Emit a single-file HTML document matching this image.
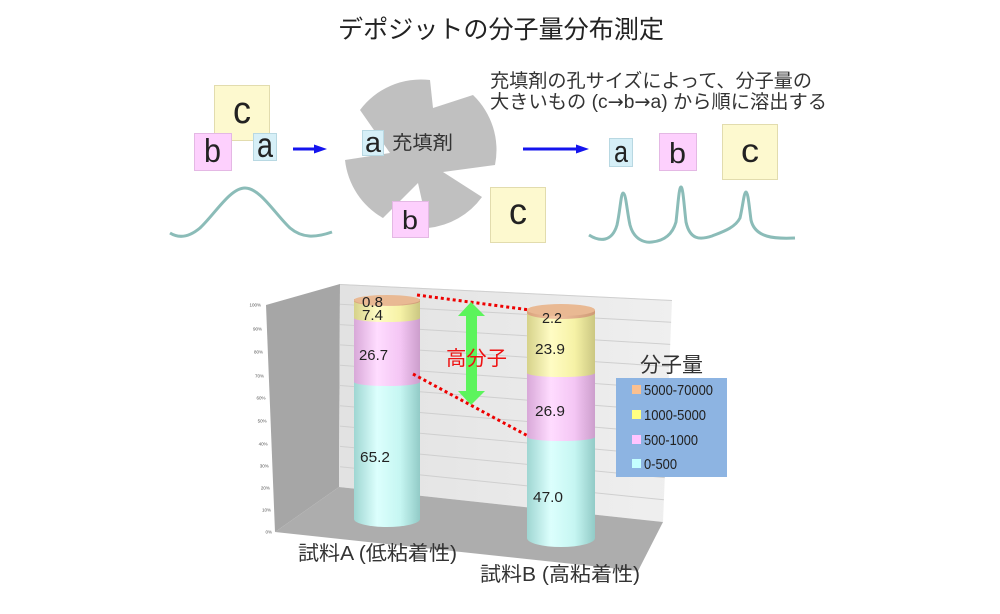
<!DOCTYPE html>
<html><head><meta charset="utf-8"><style>
html,body{margin:0;padding:0;background:#fff;}
svg{display:block;}
text{font-family:"Liberation Sans","Noto Sans CJK JP",sans-serif;}
</style></head><body>
<svg width="1000" height="614" viewBox="0 0 1000 614" xmlns="http://www.w3.org/2000/svg">
<defs>
<linearGradient id="gc" x1="0" x2="1" y1="0" y2="0"><stop offset="0" stop-color="#9fd6d2"/><stop offset="0.35" stop-color="#dcfffd"/><stop offset="0.7" stop-color="#c6f6f2"/><stop offset="1" stop-color="#92cbc7"/></linearGradient>
<linearGradient id="gp" x1="0" x2="1" y1="0" y2="0"><stop offset="0" stop-color="#d8a8d8"/><stop offset="0.35" stop-color="#ffdcff"/><stop offset="0.7" stop-color="#f4c6f4"/><stop offset="1" stop-color="#cc9ecc"/></linearGradient>
<linearGradient id="gy" x1="0" x2="1" y1="0" y2="0"><stop offset="0" stop-color="#d6d28a"/><stop offset="0.35" stop-color="#fffcc4"/><stop offset="0.7" stop-color="#f6f2a6"/><stop offset="1" stop-color="#cbc782"/></linearGradient>
<linearGradient id="go" x1="0" x2="1" y1="0" y2="0"><stop offset="0" stop-color="#d9a27c"/><stop offset="0.4" stop-color="#f2c4a2"/><stop offset="1" stop-color="#cf9a76"/></linearGradient>
<linearGradient id="gw" x1="0" x2="1" y1="0" y2="0"><stop offset="0" stop-color="#e2e2e2"/><stop offset="1" stop-color="#efefef"/></linearGradient>
</defs>

<!-- Title -->
<text x="338" y="38" font-size="25" fill="#222" textLength="326" lengthAdjust="spacingAndGlyphs">デポジットの分子量分布測定</text>

<!-- Left group -->
<rect x="214.5" y="85.5" width="55" height="55" fill="#fdf9cf" stroke="#e2dcae"/>
<text x="233" y="123" font-size="38" fill="#222" textLength="18" lengthAdjust="spacingAndGlyphs">c</text>
<rect x="194.5" y="133.5" width="37" height="37" fill="#fdd0fd" stroke="#e4b8e4"/>
<text x="204" y="162" font-size="33" fill="#222" textLength="17" lengthAdjust="spacingAndGlyphs">b</text>
<rect x="253.5" y="133.5" width="23" height="27" fill="#d6eff7" stroke="#b8d8e2"/>
<text x="257" y="157" font-size="35" fill="#222" textLength="16" lengthAdjust="spacingAndGlyphs">a</text>
<line x1="293" y1="149" x2="316" y2="149" stroke="#1414ee" stroke-width="3"/>
<polygon points="314,144.5 327,149 314,153.5" fill="#1414ee"/>
<path d="M170,233 C178,238 188,238 200,228 C215,214 230,188 245,188 C260,188 275,214 290,228 C302,238 315,238 332,232" fill="none" stroke="#8bbcb8" stroke-width="3"/>

<!-- Pinwheel -->
<path d="M360,110 A76,76 0 0 1 430,80 L433,108 L473,95 A76,76 0 0 1 495,165 L443,172 L482,197 A76,76 0 0 1 428,228 L418,183 L383,218 A76,76 0 0 1 345,160 L390,153 Z" fill="#c0c0c0"/>
<rect x="362.5" y="130.5" width="21" height="25" fill="#d6eff7" stroke="#b8d8e2"/>
<text x="365" y="152" font-size="29" fill="#222" textLength="16" lengthAdjust="spacingAndGlyphs">a</text>
<text x="392" y="149" font-size="19" fill="#333" textLength="61" lengthAdjust="spacingAndGlyphs">充填剤</text>
<rect x="392.5" y="201.5" width="36" height="36" fill="#fdd0fd" stroke="#e4b8e4"/>
<text x="402" y="229" font-size="26" fill="#222" textLength="16" lengthAdjust="spacingAndGlyphs">b</text>
<rect x="490.5" y="187.5" width="55" height="55" fill="#fdf9cf" stroke="#e2dcae"/>
<text x="509" y="224" font-size="37" fill="#222" textLength="18" lengthAdjust="spacingAndGlyphs">c</text>

<line x1="523" y1="149" x2="578" y2="149" stroke="#1414ee" stroke-width="3"/>
<polygon points="576,144.5 589,149 576,153.5" fill="#1414ee"/>

<!-- Top-right text -->
<text x="490" y="87" font-size="19" fill="#333" textLength="322" lengthAdjust="spacingAndGlyphs">充填剤の孔サイズによって、分子量の</text>
<text x="490" y="108" font-size="19" fill="#333" textLength="337" lengthAdjust="spacingAndGlyphs">大きいもの (c<tspan font-family="DejaVu Sans, sans-serif">→</tspan>b<tspan font-family="DejaVu Sans, sans-serif">→</tspan>a) から順に溶出する</text>

<!-- Right group -->
<rect x="609.5" y="138.5" width="23" height="28" fill="#d6eff7" stroke="#b8d8e2"/>
<text x="614" y="162" font-size="31" fill="#222" textLength="14" lengthAdjust="spacingAndGlyphs">a</text>
<rect x="659.5" y="133.5" width="37" height="37" fill="#fdd0fd" stroke="#e4b8e4"/>
<text x="669" y="163" font-size="29" fill="#222" textLength="17" lengthAdjust="spacingAndGlyphs">b</text>
<rect x="722.5" y="124.5" width="55" height="55" fill="#fdf9cf" stroke="#e2dcae"/>
<text x="741" y="162" font-size="33" fill="#222" textLength="18" lengthAdjust="spacingAndGlyphs">c</text>
<path d="M589,235 C600,242 612,242 617,225 C620,212 621,193 623,193 C626,193 627,212 630,225 C634,240 645,243 652,242 C662,241 672,236 676,222 C678,205 679,187 681,187 C683,187 684,205 686,222 C690,240 700,240 712,236 C722,232 735,228 740,218 C743,205 744,192 746,192 C748,192 749,205 751,220 C755,238 775,239 795,238" fill="none" stroke="#8bbcb8" stroke-width="3"/>

<!-- Chart walls -->
<polygon points="266,305 340,284 339,487 275,532" fill="#a6a6a6"/>
<polygon points="340,284 672,300 663,522 339,487" fill="url(#gw)"/>
<g stroke="#cfcfcf" stroke-width="1">
<line x1="340" y1="466.7" x2="663.9" y2="499.8"/>
<line x1="340" y1="446.4" x2="664.8" y2="477.6"/>
<line x1="340" y1="426.1" x2="665.7" y2="455.4"/>
<line x1="340" y1="405.8" x2="666.6" y2="433.2"/>
<line x1="340" y1="385.5" x2="667.5" y2="411"/>
<line x1="340" y1="365.2" x2="668.4" y2="388.8"/>
<line x1="340" y1="344.9" x2="669.3" y2="366.6"/>
<line x1="340" y1="324.6" x2="670.2" y2="344.4"/>
<line x1="340" y1="304.3" x2="671.1" y2="322.2"/>
<line x1="340" y1="284.5" x2="672" y2="300.5"/>
</g>
<polygon points="275,532 339,487 663,522 638,571" fill="#adadad"/>

<!-- Y axis labels -->
<g font-size="4.5" fill="#555" text-anchor="end">
<text x="261" y="306.5">100%</text>
<text x="262" y="330.5">90%</text>
<text x="263" y="353.5">80%</text>
<text x="264" y="377.5">70%</text>
<text x="265.5" y="399.5">60%</text>
<text x="266.6" y="422.5">50%</text>
<text x="267.7" y="445.5">40%</text>
<text x="268.8" y="467.5">30%</text>
<text x="269.9" y="489.5">20%</text>
<text x="271" y="511.5">10%</text>
<text x="272" y="533.5">0%</text>
</g>

<!-- Cylinder A -->
<path d="M354,382 L354,519 A33,8 0 0 0 420,519 L420,382 Z" fill="url(#gc)"/>
<path d="M354,318 L354,382 A33,4 0 0 0 420,382 L420,318 Z" fill="url(#gp)"/>
<path d="M354,300 L354,318 A33,4 0 0 0 420,318 L420,300 Z" fill="url(#gy)"/>
<path d="M354,299 L354,301 A33,5 0 0 0 420,301 L420,299 Z" fill="url(#go)"/>
<ellipse cx="387" cy="300" rx="33" ry="5" fill="#e9b993"/>

<!-- Cylinder B -->
<path d="M527,437 L527,538 A34,9 0 0 0 595,538 L595,437 Z" fill="url(#gc)"/>
<path d="M527,373 L527,437 A34,4 0 0 0 595,437 L595,373 Z" fill="url(#gp)"/>
<path d="M527,312 L527,373 A34,4 0 0 0 595,373 L595,312 Z" fill="url(#gy)"/>
<path d="M527,310 L527,313 A34,6 0 0 0 595,313 L595,310 Z" fill="url(#go)"/>
<ellipse cx="561" cy="310" rx="34" ry="6" fill="#e9b993"/>

<!-- Data labels -->
<g fill="#222" font-size="15">
<text x="362" y="307" textLength="21" lengthAdjust="spacingAndGlyphs">0.8</text>
<text x="362" y="320" textLength="21" lengthAdjust="spacingAndGlyphs">7.4</text>
<text x="359" y="360" textLength="29" lengthAdjust="spacingAndGlyphs">26.7</text>
<text x="360" y="462" textLength="30" lengthAdjust="spacingAndGlyphs">65.2</text>
<text x="542" y="323" textLength="20" lengthAdjust="spacingAndGlyphs">2.2</text>
<text x="535" y="354" textLength="30" lengthAdjust="spacingAndGlyphs">23.9</text>
<text x="535" y="416" textLength="30" lengthAdjust="spacingAndGlyphs">26.9</text>
<text x="533" y="502" textLength="30" lengthAdjust="spacingAndGlyphs">47.0</text>
</g>

<!-- Red dotted lines -->
<line x1="417" y1="295" x2="530" y2="310" stroke="#ee0000" stroke-width="3" stroke-dasharray="3,3"/>
<line x1="413" y1="374" x2="528" y2="436" stroke="#ee0000" stroke-width="3" stroke-dasharray="3,3"/>

<!-- Green double arrow -->
<polygon points="471,302 485,316 477,316 477,391 485,391 471,405 458,391 466,391 466,316 458,316" fill="#5cf45c"/>
<text x="446" y="365" font-size="20" fill="#ee1111" textLength="61" lengthAdjust="spacingAndGlyphs">高分子</text>

<!-- Legend -->
<text x="640" y="372" font-size="21" fill="#333" textLength="63" lengthAdjust="spacingAndGlyphs">分子量</text>
<rect x="616" y="378" width="111" height="99" fill="#8db4e2"/>
<rect x="632" y="385" width="9" height="9" fill="#fac090"/>
<rect x="632" y="410" width="9" height="9" fill="#ffff80"/>
<rect x="632" y="435" width="9" height="9" fill="#ffc4ff"/>
<rect x="632" y="459" width="9" height="9" fill="#c4ffff"/>
<g font-size="15" fill="#222">
<text x="644" y="395" textLength="69" lengthAdjust="spacingAndGlyphs">5000-70000</text>
<text x="644" y="420" textLength="62" lengthAdjust="spacingAndGlyphs">1000-5000</text>
<text x="644" y="445" textLength="54" lengthAdjust="spacingAndGlyphs">500-1000</text>
<text x="644" y="469" textLength="33" lengthAdjust="spacingAndGlyphs">0-500</text>
</g>

<!-- Category labels -->
<text x="298" y="560" font-size="20" fill="#333" textLength="159" lengthAdjust="spacingAndGlyphs">試料A (低粘着性)</text>
<text x="480" y="581" font-size="20" fill="#333" textLength="160" lengthAdjust="spacingAndGlyphs">試料B (高粘着性)</text>
</svg>
</body></html>
